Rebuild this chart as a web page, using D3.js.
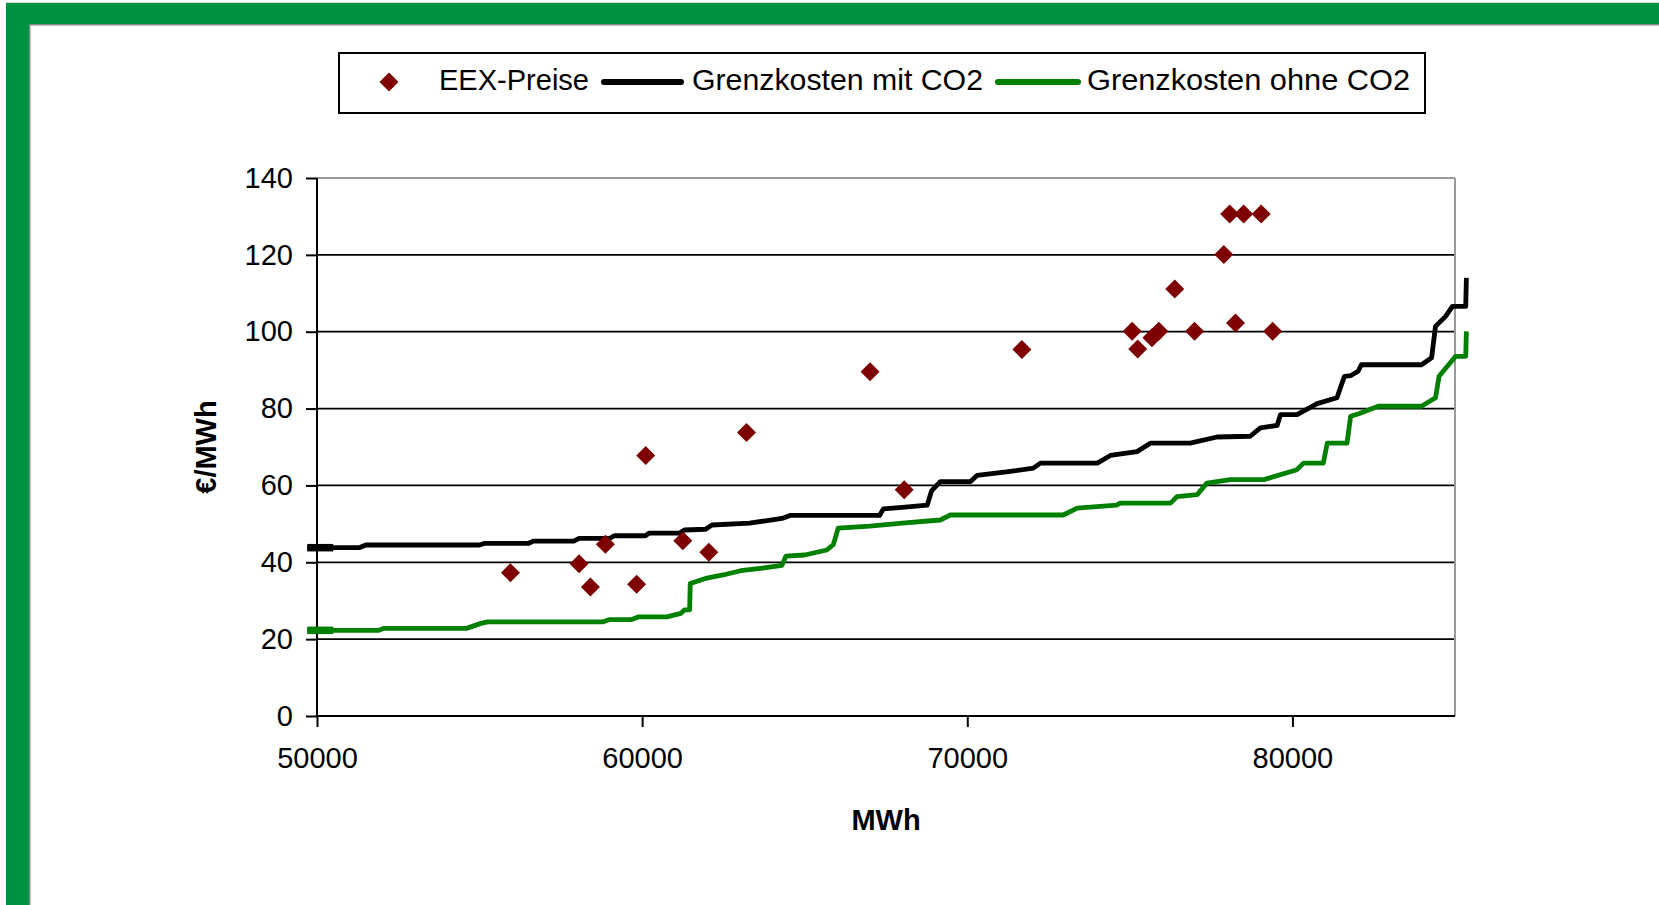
<!DOCTYPE html>
<html>
<head>
<meta charset="utf-8">
<script src="https://cdn.jsdelivr.net/npm/d3@7/dist/d3.min.js"></script>
<style>
  html, body { margin: 0; padding: 0; background: #fff; }
  svg { display: block; font-family: "Liberation Sans", Arial, sans-serif; }
</style>
</head>
<body>
<svg id="chart" width="1659" height="905"></svg>
<script>
// ---------------- DATA ----------------
const seriesNames = ["EEX-Preise", "Grenzkosten mit CO2", "Grenzkosten ohne CO2"];
const xTicks = [50000, 60000, 70000, 80000];
const yTicks = [0, 20, 40, 60, 80, 100, 120, 140];
const xTitle = "MWh";
const yTitle = "€/MWh";

// EEX prices [MWh, €/MWh]
const eexPreise = [
  [55950, 37.3], [58060, 39.6], [58410, 33.6], [58870, 44.7], [59830, 34.3],
  [60110, 67.8], [61250, 45.6], [62050, 42.6], [63210, 73.8], [67010, 89.6],
  [68060, 58.9], [71680, 95.4], [75070, 100.1], [75240, 95.5], [75680, 98.4],
  [75890, 100.1], [76380, 111.1], [76990, 100.1], [77890, 120.1], [78070, 130.6],
  [78500, 130.6], [78250, 102.3], [79040, 130.6], [79390, 100.1]
];

// Marginal cost curve with CO2 [MWh, €/MWh]
const mitCO2 = [
  [49700, 43.8], [51300, 43.8], [51500, 44.5], [55000, 44.5], [55140, 44.9],
  [56500, 44.9], [56650, 45.5], [57900, 45.5], [58060, 46.2], [59000, 46.2],
  [59140, 46.9], [60100, 46.9], [60220, 47.6], [61150, 47.6], [61300, 48.4],
  [61950, 48.6], [62150, 49.7], [63300, 50.2], [63800, 50.8], [64300, 51.4],
  [64550, 52.2], [67300, 52.2], [67420, 53.9], [68000, 54.3], [68770, 54.9],
  [68900, 58.6], [69170, 61.0], [70100, 61.0], [70300, 62.6], [71200, 63.5],
  [72030, 64.5], [72250, 65.8], [74000, 65.8], [74400, 67.8], [75220, 68.8],
  [75630, 71.0], [76860, 71.0], [77680, 72.6], [78700, 72.8], [79015, 75.0],
  [79530, 75.6], [79630, 78.4], [80140, 78.4], [80760, 81.3], [81370, 82.8],
  [81600, 88.4], [81800, 88.6], [82020, 89.7], [82120, 91.4], [83970, 91.4],
  [84280, 93.2], [84400, 101.4], [84710, 104.0], [84920, 106.6], [85330, 106.6],
  [85350, 114.0]
];

// Marginal cost curve without CO2 [MWh, €/MWh]
const ohneCO2 = [
  [49700, 22.3], [51900, 22.3], [52050, 22.8], [54600, 22.8], [55040, 24.1],
  [55250, 24.5], [58800, 24.5], [59000, 25.1], [59680, 25.1], [59900, 25.8],
  [60760, 25.8], [61190, 26.7], [61300, 27.6], [61460, 27.6], [61480, 34.5],
  [61950, 35.8], [62490, 36.7], [63030, 37.8], [63700, 38.5], [64300, 39.2],
  [64420, 41.6], [65000, 41.9], [65680, 43.2], [65880, 44.6], [66030, 48.9],
  [67000, 49.4], [68000, 50.2], [69170, 51.0], [69480, 52.3], [72950, 52.3],
  [73380, 54.1], [74600, 54.9], [74700, 55.4], [76250, 55.4], [76450, 57.1],
  [77070, 57.6], [77370, 60.6], [78090, 61.5], [79120, 61.5], [80140, 64.1],
  [80340, 65.8], [80950, 65.8], [81070, 71.0], [81680, 71.0], [81790, 78.0],
  [82020, 78.6], [82640, 80.6], [83970, 80.6], [84400, 82.8], [84510, 88.4],
  [85020, 93.6], [85330, 93.6], [85350, 100.1]
];

// ---------------- DRAW ----------------
const svg = d3.select("#chart");
const W = 1659, H = 905;

// green frame
const frameG = svg.append("g");
frameG.append("rect").attr("x", 6).attr("y", 2).attr("width", W - 6).attr("height", 1).attr("fill", "#d8d8d8");
frameG.append("rect").attr("x", 6).attr("y", 3).attr("width", W - 6).attr("height", 21).attr("fill", "#009143");
frameG.append("rect").attr("x", 6).attr("y", 3).attr("width", 23).attr("height", H - 3).attr("fill", "#009143");
frameG.append("rect").attr("x", 29).attr("y", 24).attr("width", W - 29).attr("height", 1.5).attr("fill", "#8a8a8a");
frameG.append("rect").attr("x", 29).attr("y", 24).attr("width", 1.5).attr("height", H - 24).attr("fill", "#8a8a8a");

const x = d3.scaleLinear().domain([50000, 85000]).range([317, 1455]);
const y = d3.scaleLinear().domain([0, 140]).range([716, 178]);

// gridlines
svg.append("g").selectAll("line").data(yTicks.filter(v => v > 0 && v < 140)).join("line")
  .attr("x1", x(50000)).attr("x2", x(85000))
  .attr("y1", d => y(d)).attr("y2", d => y(d))
  .attr("stroke", "#000").attr("stroke-width", 1.8);

// plot border top & right (gray)
svg.append("line").attr("x1", x(50000)).attr("x2", x(85000)).attr("y1", y(140)).attr("y2", y(140))
  .attr("stroke", "#9a9a9a").attr("stroke-width", 2);
svg.append("line").attr("x1", x(85000)).attr("x2", x(85000)).attr("y1", y(140)).attr("y2", y(0))
  .attr("stroke", "#9a9a9a").attr("stroke-width", 2);

// axes
const yAxis = d3.axisLeft(y).tickValues(yTicks).tickSize(11).tickPadding(13).tickFormat(d3.format("d"));
const xAxis = d3.axisBottom(x).tickValues(xTicks).tickSize(11).tickPadding(20).tickFormat(d3.format("d"));

const gy = svg.append("g").attr("transform", `translate(${x(50000)},0)`).call(yAxis);
const gx = svg.append("g").attr("transform", `translate(0,${y(0)})`).call(xAxis);
[gx, gy].forEach(g => {
  g.select(".domain").attr("stroke", "#000").attr("stroke-width", 2);
  g.selectAll(".tick line").attr("stroke", "#000").attr("stroke-width", 2);
  g.selectAll(".tick text").attr("fill", "#000").attr("font-size", 29)
    .attr("font-family", "'Liberation Sans', Arial, sans-serif");
});
gy.select(".domain").attr("d", `M0,${y(140)}V${y(0)}`);
gx.select(".domain").attr("d", `M${x(50000)},0H${x(85000)}`);

// lines
const line = d3.line().x(d => x(d[0])).y(d => y(d[1]));
const lineSeries = [
  { data: ohneCO2, color: "#008000" },
  { data: mitCO2, color: "#000000" }
];
lineSeries.forEach(s => {
  svg.append("path").datum(s.data).attr("d", line)
    .attr("fill", "none").attr("stroke", s.color).attr("stroke-width", 4.8)
    .attr("stroke-linejoin", "round");
  // thicker start segment
  svg.append("path").datum([s.data[0], [50500, s.data[0][1]]]).attr("d", line)
    .attr("fill", "none").attr("stroke", s.color).attr("stroke-width", 7.5);
});

// diamonds
const diamond = r => `M0,${-r}L${r},0L0,${r}L${-r},0Z`;
svg.append("g").selectAll("path").data(eexPreise).join("path")
  .attr("transform", d => `translate(${x(d[0])},${y(d[1])})`)
  .attr("d", diamond(9.5))
  .attr("fill", "#7f0000");

// axis titles
svg.append("text").attr("x", (x(50000) + x(85000)) / 2).attr("y", 830)
  .attr("text-anchor", "middle").attr("font-size", 29).attr("font-weight", "bold")
  .text(xTitle);
svg.append("text").attr("transform", `translate(216,${(y(0) + y(140)) / 2}) rotate(-90)`)
  .attr("text-anchor", "middle").attr("font-size", 29).attr("font-weight", "bold")
  .text(yTitle);

// legend
const lg = svg.append("g");
lg.append("rect").attr("x", 339).attr("y", 53).attr("width", 1086).attr("height", 60)
  .attr("fill", "#fff").attr("stroke", "#000").attr("stroke-width", 2);
const ly = 82;
lg.append("path").attr("transform", `translate(389,${ly})`).attr("d", diamond(9.5)).attr("fill", "#7f0000");
lg.append("text").attr("x", 439).attr("y", ly + 8).attr("font-size", 29)
  .attr("textLength", 150).attr("lengthAdjust", "spacingAndGlyphs").text(seriesNames[0]);
lg.append("line").attr("x1", 604).attr("x2", 681).attr("y1", ly).attr("y2", ly)
  .attr("stroke", "#000").attr("stroke-width", 6).attr("stroke-linecap", "round");
lg.append("text").attr("x", 692).attr("y", ly + 8).attr("font-size", 29)
  .attr("textLength", 291).attr("lengthAdjust", "spacingAndGlyphs").text(seriesNames[1]);
lg.append("line").attr("x1", 998).attr("x2", 1078).attr("y1", ly).attr("y2", ly)
  .attr("stroke", "#008000").attr("stroke-width", 6).attr("stroke-linecap", "round");
lg.append("text").attr("x", 1087).attr("y", ly + 8).attr("font-size", 29)
  .attr("textLength", 323).attr("lengthAdjust", "spacingAndGlyphs").text(seriesNames[2]);
</script>
</body>
</html>
